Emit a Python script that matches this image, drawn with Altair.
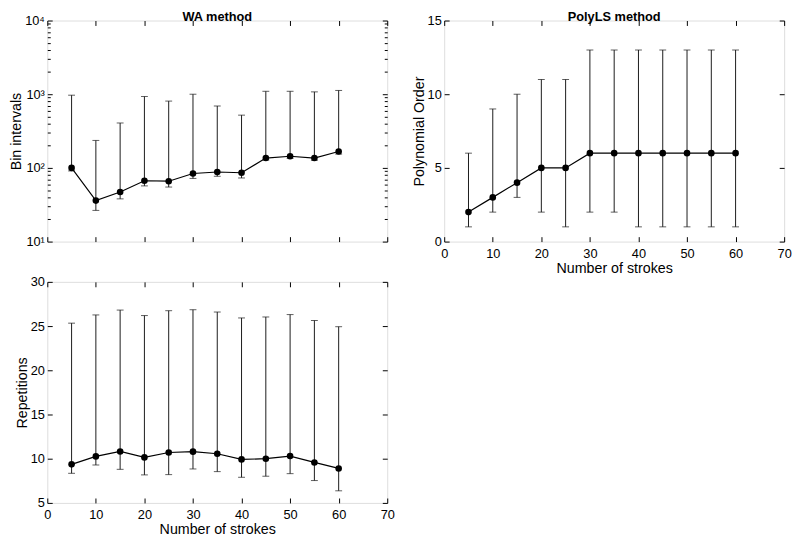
import altair as alt
import pandas as pd

# ---- data ----
strokes = [5, 10, 15, 20, 25, 30, 35, 40, 45, 50, 55, 60]

wa_mean = [100, 36, 47, 67, 66, 84, 88, 86, 136, 144, 136, 167]
wa_lower = [91, 26.5, 38, 57, 55, 72, 77, 73, 128, 135, 127, 154]
wa_upper = [970, 236, 407, 932, 807, 1000, 692, 520, 1096, 1096, 1076, 1125]

poly_mean = [2, 3, 4, 5, 5, 6, 6, 6, 6, 6, 6, 6]
poly_lower = [1, 2, 3, 2, 1, 2, 2, 1, 1, 1, 1, 1]
poly_upper = [6, 9, 10, 11, 11, 13, 13, 13, 13, 13, 13, 13]

rep_mean = [9.36, 10.26, 10.82, 10.15, 10.7, 10.8, 10.56, 9.92, 10.0, 10.3, 9.58, 8.9]
rep_lower = [8.35, 9.29, 8.8, 8.17, 8.2, 8.84, 8.54, 7.9, 8.02, 8.31, 7.53, 6.37]
rep_upper = [25.33, 26.26, 26.81, 26.19, 26.74, 26.85, 26.59, 25.92, 26.03, 26.3, 25.63, 24.93]

x_ticks = [0, 10, 20, 30, 40, 50, 60, 70]
wa_major = [10, 100, 1000, 10000]
wa_minor = [20, 30, 40, 50, 60, 70, 80, 90,
            200, 300, 400, 500, 600, 700, 800, 900,
            2000, 3000, 4000, 5000, 6000, 7000, 8000, 9000]
poly_ticks = [0, 5, 10, 15]
rep_ticks = [5, 10, 15, 20, 25, 30]

FONT = "Liberation Sans"
INK = "#000000"
BAR = "#1a1a1a"
W, H = 346, 225


def axis(orient, values, labels=False, title=None, size=5, label_expr=None, lpad=3, tpad=3):
    kw = dict(
        orient=orient, values=values, labels=labels, domain=False, ticks=True,
        tickSize={"expr": str(-size)}, tickColor=INK, tickWidth=1, grid=False,
        labelPadding=size + lpad, labelColor=INK, labelFontSize=13, labelFont=FONT,
        labelFlush=False, titleFont=FONT, titleFontSize=14.5, titleFontWeight="normal",
        titleColor=INK, titlePadding=tpad, title=title,
    )
    if label_expr:
        kw["labelExpr"] = label_expr
    return alt.Axis(**kw)


def panel(df, ytitle, yscale, ymajor, yminor=None, xlabels=True, title=None, label_expr=None):
    xs = alt.Scale(domain=[0, 70], nice=False, zero=False)
    x_bottom = axis("bottom", x_ticks, labels=xlabels,
                    title="Number of strokes" if xlabels else None, lpad=6, tpad=1)
    x_top = axis("top", x_ticks)
    y_left = axis("left", ymajor, labels=True, title=ytitle, label_expr=label_expr,
                  lpad=3, tpad=1)
    y_right = axis("right", ymajor)
    y_left_minor = axis("left", yminor, size=3) if yminor else None
    y_right_minor = axis("right", yminor, size=3) if yminor else None

    rules = alt.Chart(df).mark_rule(color=BAR, strokeWidth=1).encode(
        x=alt.X("x:Q", scale=xs, axis=x_bottom),
        y=alt.Y("lower:Q", scale=yscale, axis=y_left),
        y2="upper:Q",
    )
    cap_up = alt.Chart(df).mark_tick(color=BAR, orient="horizontal", size=7, thickness=1).encode(
        x=alt.X("x:Q", scale=xs, axis=x_top),
        y=alt.Y("upper:Q", scale=yscale, axis=y_right),
    )
    cap_lo = alt.Chart(df).mark_tick(color=BAR, orient="horizontal", size=7, thickness=1).encode(
        x=alt.X("x:Q", scale=xs, axis=None),
        y=alt.Y("lower:Q", scale=yscale, axis=y_left_minor),
    )
    line = alt.Chart(df).mark_line(color=INK, strokeWidth=1.2).encode(
        x=alt.X("x:Q", scale=xs, axis=None),
        y=alt.Y("mean:Q", scale=yscale, axis=y_right_minor),
    )
    pts = alt.Chart(df).mark_circle(color=INK, size=45, opacity=1).encode(
        x=alt.X("x:Q", scale=xs, axis=None),
        y=alt.Y("mean:Q", scale=yscale, axis=None),
    )
    ch = alt.layer(rules, cap_up, cap_lo, line, pts).resolve_axis(x="independent", y="independent")
    props = dict(width=W, height=H)
    if title:
        props["title"] = alt.TitleParams(title, font=FONT, fontSize=13, fontWeight="bold",
                                         color=INK, offset=-9, anchor="middle")
    return ch.properties(**props)


wa_df = pd.DataFrame({"x": strokes, "mean": wa_mean, "lower": wa_lower, "upper": wa_upper})
poly_df = pd.DataFrame({"x": strokes, "mean": poly_mean, "lower": poly_lower, "upper": poly_upper})
rep_df = pd.DataFrame({"x": strokes, "mean": rep_mean, "lower": rep_lower, "upper": rep_upper})

log_expr = ("datum.value == 10 ? '10¹' : datum.value == 100 ? '10²' : "
            "datum.value == 1000 ? '10³' : '10⁴'")

wa = panel(wa_df, "Bin intervals", alt.Scale(type="log", domain=[10, 10000], nice=False),
           wa_major, wa_minor, xlabels=False, title="WA method", label_expr=log_expr)
poly = panel(poly_df, "Polynomial Order", alt.Scale(domain=[0, 15], nice=False),
             poly_ticks, xlabels=True, title="PolyLS method")
rep = panel(rep_df, "Repetitions", alt.Scale(domain=[5, 30], nice=False, zero=False),
            rep_ticks, xlabels=True)

left = alt.vconcat(wa, rep, spacing=26)
chart = alt.hconcat(left, poly, spacing=16).properties(
    padding={"left": 0, "top": -3, "right": 0, "bottom": 0}
).configure_view(stroke=INK, strokeWidth=1).configure(font=FONT)

chart.save("out.html", embed_options={"renderer": "svg", "actions": False})
